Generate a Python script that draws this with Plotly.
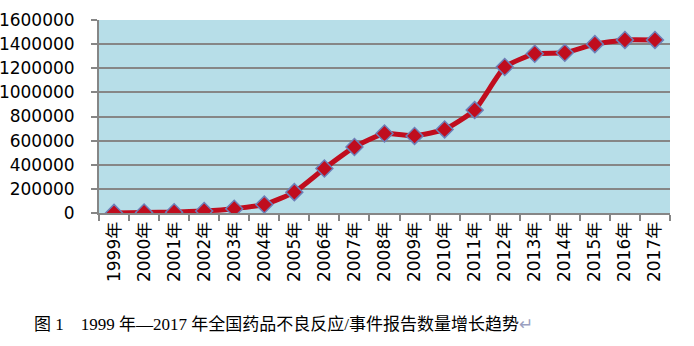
import plotly.graph_objects as go

years = ["1999年", "2000年", "2001年", "2002年", "2003年", "2004年", "2005年", "2006年", "2007年",
         "2008年", "2009年", "2010年", "2011年", "2012年", "2013年", "2014年", "2015年", "2016年", "2017年"]
reports = [1000, 5000, 7000, 17000, 36000, 70000, 173000, 369000, 547000,
           659000, 639000, 693000, 853000, 1210000, 1320000, 1328000, 1400000, 1435000, 1435000]
y_ticks = [0, 200000, 400000, 600000, 800000, 1000000, 1200000, 1400000, 1600000]
caption = "图 1    1999 年—2017 年全国药品不良反应/事件报告数量增长趋势"

fig = go.Figure()
fig.add_trace(go.Scatter(
    x=years, y=reports, mode="lines+markers",
    line=dict(color="#C00D1E", width=5, shape="spline", smoothing=0.5),
    marker=dict(symbol="diamond", size=13, color="#C00D1E",
                line=dict(color="#6D7FB8", width=1.5)),
    showlegend=False,
))

fig.update_layout(
    width=694, height=346,
    margin=dict(l=99, r=24, t=20, b=133),
    paper_bgcolor="white",
    plot_bgcolor="#B7DEE8",
    font=dict(family="DejaVu Sans, Noto Sans CJK SC", size=17, color="black"),
    xaxis=dict(
        type="category", tickangle=-90, tickson="boundaries", automargin=False,
        ticks="outside", ticklen=6, tickcolor="#868686", tickwidth=2,
        showline=True, linecolor="#868686", linewidth=2,
        showgrid=False, tickfont=dict(size=17, family="DejaVu Sans, Noto Sans CJK SC"),
        range=[-0.5, 18.5],
    ),
    yaxis=dict(
        range=[0, 1600000], tickvals=y_ticks, ticktext=[str(v) for v in y_ticks],
        automargin=False,
        ticks="outside", ticklen=6, tickcolor="#868686", tickwidth=2,
        ticklabelstandoff=13,
        showline=True, linecolor="#868686", linewidth=2,
        showgrid=True, gridcolor="#868686", gridwidth=2,
        zeroline=False, tickfont=dict(size=17),
    ),
)

fig.add_annotation(
    text=caption + '<span style="color:#9AA0C0">↵</span>',
    xref="paper", yref="paper", x=(32 - 99) / 571, y=-(325 - 213) / 193,
    xanchor="left", yanchor="middle", showarrow=False,
    font=dict(family="Liberation Serif, Noto Sans CJK SC", size=17, color="black"),
)

fig.write_html("out.html")
